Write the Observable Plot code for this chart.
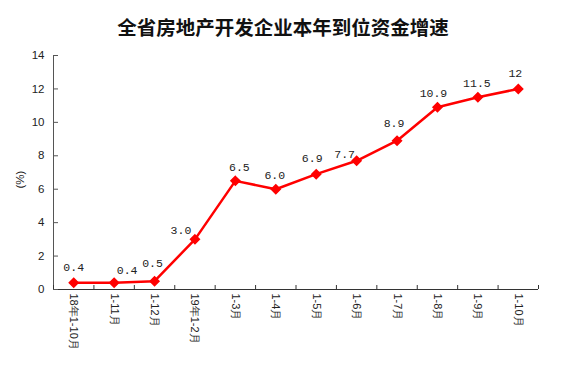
<!DOCTYPE html>
<html>
<head>
<meta charset="utf-8">
<script src="https://cdn.jsdelivr.net/npm/d3@7"></script>
<script src="https://cdn.jsdelivr.net/npm/@observablehq/plot@0.6"></script>
<style>
  body { margin: 0; background: #fff; }
  #title { width: 574px; height: 45px; box-sizing: border-box; padding-top: 8px; padding-right: 8px; line-height: 38px; text-align: center; font-family: "Noto Sans CJK SC", sans-serif; font-weight: bold; font-size: 19.5px; color: #111; }
</style>
</head>
<body>
<div id="title">全省房地产开发企业本年到位资金增速</div>
<div id="chart"></div>
<script>
const categories = ["18年1-10月","1-11月","1-12月","19年1-2月","1-3月","1-4月","1-5月","1-6月","1-7月","1-8月","1-9月","1-10月"];
const values = [0.4, 0.4, 0.5, 3.0, 6.5, 6.0, 6.9, 7.7, 8.9, 10.9, 11.5, 12];
const valueLabels = ["0.4","0.4","0.5","3.0","6.5","6.0","6.9","7.7","8.9","10.9","11.5","12"];
const yTicks = [0, 2, 4, 6, 8, 10, 12, 14];
const yLabel = "(%)";

const data = categories.map((c, i) => ({i, cat: c, v: values[i], label: valueLabels[i]}));
const n = categories.length;
const bounds = d3.range(n + 1).map(i => i - 0.5);
// label nudges (layout only)
const nudgeX = [0, 13, -2, -14, 4, -1, -4, -12, -3, -4, -1, -3];
const nudgeY = [-16, -13, -18, -9, -14, -14, -16, -6, -17, -14, -14, -16];

const red = "#ff0000";
const plot = Plot.plot({
  width: 574,
  height: 326,
  marginTop: 10,
  marginBottom: 82,
  marginLeft: 53,
  marginRight: 36,
  style: {fontFamily: "'Liberation Sans', sans-serif", fontSize: "11px", color: "#222", background: "#fff"},
  x: {type: "linear", domain: [-0.5, n - 0.5]},
  y: {domain: [0, 14]},
  marks: [
    Plot.ruleY([0], {stroke: "#333"}),
    Plot.ruleX([-0.5], {stroke: "#555"}),
    Plot.axisY({ticks: yTicks, tickSize: -5, tickPadding: 14, stroke: "#555", label: null, fontSize: 11.5}),
    Plot.text([yLabel], {frameAnchor: "left", dx: -33, dy: 16, rotate: -90, fontSize: 11.5, fill: "#222"}),
    Plot.axisX({ticks: bounds, tickFormat: () => "", tickSize: -4, stroke: "#333", label: null}),
    Plot.axisX({ticks: d3.range(n), tickFormat: i => categories[i], tickSize: 0, tickPadding: 4, tickRotate: 90, label: null, fontSize: 11}),
    Plot.line(data, {x: "i", y: "v", stroke: red, strokeWidth: 2.5}),
    Plot.dot(data, {x: "i", y: "v", symbol: "diamond2", r: 4, fill: red, stroke: red}),
    ...data.map((d, k) => Plot.text([d], {x: "i", y: "v", text: "label", dx: nudgeX[k], dy: nudgeY[k], fontFamily: "'Liberation Mono', monospace", fontSize: 11.5, fill: "#222"}))
  ]
});
document.getElementById("chart").appendChild(plot);
</script>
</body>
</html>
